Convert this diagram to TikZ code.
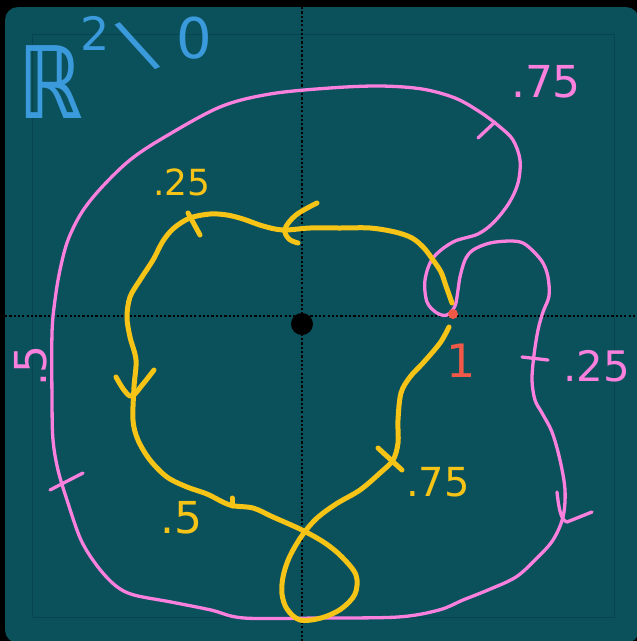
\documentclass[tikz,border=0pt]{standalone}
\usepackage{fontspec}
\setmainfont{DejaVu Sans}
\definecolor{tealbg}{RGB}{11,81,92}
\definecolor{tealline}{RGB}{7,68,78}
\definecolor{pinkc}{RGB}{250,128,222}
\definecolor{yelc}{RGB}{246,196,22}
\definecolor{bluec}{RGB}{58,154,219}
\definecolor{redc}{RGB}{240,88,72}
\begin{document}
\begin{tikzpicture}[x=1pt,y=-1pt,line cap=round,line join=round,
  pinkline/.style={draw=pinkc,line width=3.3pt},
  yelline/.style={draw=yelc,line width=5pt},
  axisline/.style={draw=black,line width=2.4pt,line cap=butt,dash pattern=on 2.2pt off 2.1pt},
  plbl/.style={text=pinkc,inner sep=0pt,font=\fontsize{44}{44}\selectfont},
  ylbl/.style={text=yelc,inner sep=0pt,font=\fontsize{40}{40}\selectfont},
  blbl/.style={text=bluec,inner sep=0pt}]
\useasboundingbox (0,0) rectangle (637,641);
\fill[black] (0,0) rectangle (637,641);
\fill[tealbg,rounded corners=13pt] (5,7) rectangle (639,643);
\draw[tealline,line width=1pt] (32,34) rectangle (614,617);
% axes
\coordinate (vtop) at (302,7);
\coordinate (vbot) at (302,641);
\coordinate (hl) at (5,316);
\coordinate (hr) at (637,316);
\draw[axisline] (vtop) -- (vbot);
\draw[axisline] (hl) -- (hr);
\node[circle,fill=black,minimum size=22pt,inner sep=0pt] (origin) at (302,324) {};
% pink curve
\draw[pinkline] plot[smooth cycle,tension=0.55] coordinates {
 (447,315) (455,306) (458,290) (460,277) (465,260) (473,250) (490,243) (510,241)
 (523,243) (534,252) (543,263) (548,277) (549,296) (543,312) (538,330) (534,355)
 (532,380) (535,400) (542,413) (552,432) (560,460) (565,490) (563,517) (553,540)
 (537,558) (516,577) (488,590) (463,600) (439,610) (398,617) (320,618) (244,618)
 (211,610) (171,602) (134,595) (116,586) (98,567) (81,540) (67,500) (58,470)
 (53,440) (52,400) (52,333) (55,300) (60,270) (68,240) (82,212) (102,187)
 (130,160) (163,138) (220,107) (270,94) (330,88) (380,86) (422,89) (455,98)
 (480,112) (500,127) (513,140) (520,160) (518,183) (509,203) (494,222) (478,234)
 (453,242) (433,258) (425,280) (427,302) (437,313) };
% pink ticks
\draw[pinkline] (478,138) -- (495,122);
\draw[pinkline] (50,490) -- (83,473);
\draw[pinkline] (522,357) -- (548,360);
\draw[pinkline] (557,492) .. controls (559,510) and (561,520) .. (567,522) -- (592,512);
% yellow curve
\draw[yelline] plot[smooth,tension=0.55] coordinates {
 (449,327) (440,343) (423,363) (410,377) (401,393) (398,420) (398,443) (393,460)
 (380,473) (360,490) (336,504) (316,519) (301,537) (289,558) (283,577) (282,594)
 (287,609) (300,620) (321,618) (341,609) (355,594) (356,575) (342,557) (325,543)
 (302,530) (273,517) (253,508) (230,505) (207,494) (187,487) (167,477) (150,460)
 (138,440) (133,420) (134,387) (136,360) (130,337) (127,317) (130,297) (140,280)
 (153,260) (163,241) (174,228) (190,218) (210,214) (227,215) (243,219) (263,226)
 (283,230) (310,228) (340,228) (370,228) (395,232) (412,238) (424,248) (433,260)
 (441,272) (446,286) (452,303) };
% yellow arrows
\draw[yelline] plot[smooth,tension=0.6] coordinates {(317,203) (296,215) (285,229) (289,239) (298,243)};
\draw[yelline] plot[smooth,tension=0.6] coordinates {(116,377) (124,390) (132,396) (143,384) (154,370)};
% yellow ticks
\draw[yelline] (188,213) -- (200,235);
\draw[yelline] (232,498) -- (232,506);
\draw[yelline] (378,448) -- (402,470);
% point 1
\node[circle,fill=redc,minimum size=10pt,inner sep=0pt] (pone) at (453,314) {};
\node[text=redc,inner sep=0pt,font=\fontsize{46}{46}\selectfont] (lone) at (461,361) {1};
% pink labels
\node[plbl] (p75) at (546,82) {.75};
\node[plbl,font=\fontsize{42}{42}\selectfont] (p25) at (597,366) {.25};
\node[plbl,rotate=90] (p5) at (31,366) {.5};
% yellow labels
\node[ylbl,font=\fontsize{36}{36}\selectfont] (y25) at (182,182) {.25};
\node[ylbl,font=\fontsize{44}{44}\selectfont] (y5) at (181,518) {.5};
\node[ylbl] (y75) at (438,482) {.75};
% title
\node[blbl,anchor=base west,font=\fontsize{100}{100}\selectfont\bfseries] (tR) at (18,118) {\scalebox{0.8}[1]{ℝ}};
\node[blbl,anchor=base west,font=\fontsize{46}{46}\selectfont] (t2) at (80,50) {2};
\node[blbl,rotate=25,font=\fontsize{70}{70}\selectfont] (tminus) at (135,47) {∖};
\node[blbl,anchor=base west,font=\fontsize{56}{56}\selectfont] (t0) at (176,58) {0};
\end{tikzpicture}
\end{document}
